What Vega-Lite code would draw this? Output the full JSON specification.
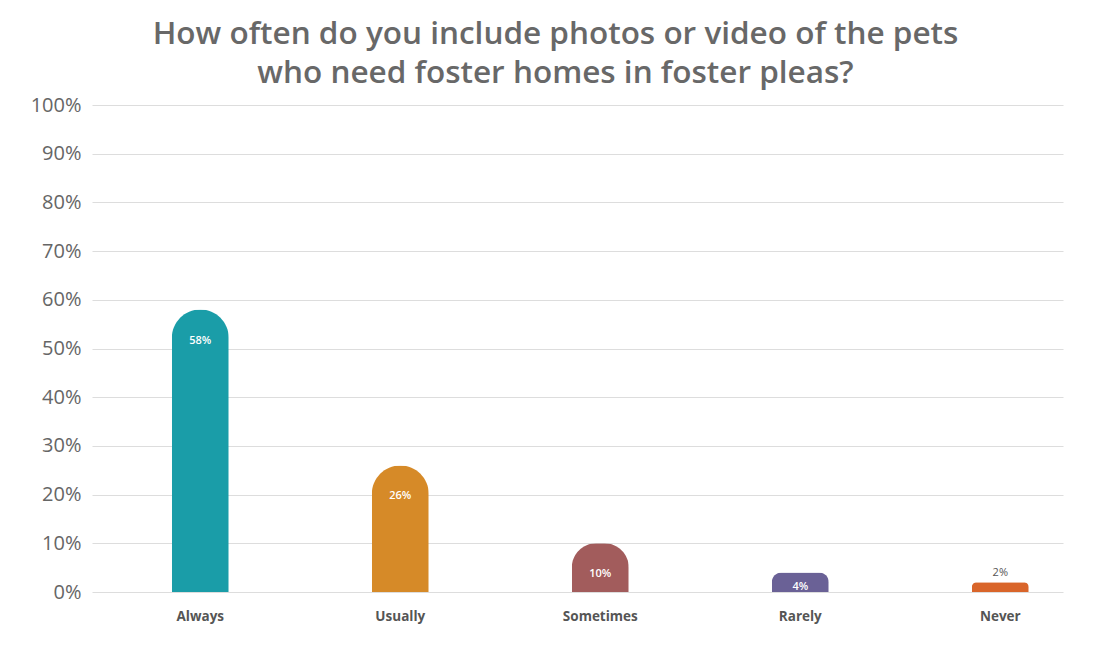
{
  "$schema": "https://vega.github.io/schema/vega-lite/v6.json",
  "width": 971,
  "height": 487,
  "autosize": {"type": "none"},
  "padding": {"left": 92, "top": 105, "right": 31, "bottom": 79},
  "background": "white",
  "title": {
    "text": ["How often do you include photos or video of the pets", "who need foster homes in foster pleas?"],
    "anchor": "middle",
    "frame": "group",
    "dx": -22,
    "offset": 6,
    "font": "Open Sans",
    "fontSize": 31.5,
    "fontWeight": 600,
    "color": "#686868",
    "lineHeight": 39
  },
  "data": {
    "values": [
      {"response": "Always", "share": 0.58},
      {"response": "Usually", "share": 0.26},
      {"response": "Sometimes", "share": 0.10},
      {"response": "Rarely", "share": 0.04},
      {"response": "Never", "share": 0.02}
    ]
  },
  "encoding": {
    "x": {
      "field": "response",
      "type": "nominal",
      "sort": null,
      "scale": {"paddingInner": 0.715, "paddingOuter": 0.285, "align": 0.7},
      "axis": {
        "title": null,
        "labelAngle": 0,
        "domain": false,
        "ticks": false,
        "labelFont": "Open Sans",
        "labelFontWeight": "bold",
        "labelFontSize": 13.5,
        "labelColor": "#555555",
        "labelPadding": 17
      }
    },
    "y": {
      "field": "share",
      "type": "quantitative",
      "scale": {"domain": [0, 1]},
      "axis": {
        "title": null,
        "format": ".0%",
        "values": [0, 0.1, 0.2, 0.3, 0.4, 0.5, 0.6, 0.7, 0.8, 0.9, 1],
        "labelOverlap": false,
        "labelFlush": false,
        "domain": false,
        "ticks": false,
        "grid": true,
        "gridColor": "#dddddd",
        "labelFont": "Open Sans",
        "labelFontSize": 20,
        "labelColor": "#666666",
        "labelPadding": 11
      }
    }
  },
  "layer": [
    {
      "mark": {"type": "bar", "cornerRadiusTopLeft": 28.5, "cornerRadiusTopRight": 28.5},
      "encoding": {
        "color": {
          "field": "response",
          "type": "nominal",
          "sort": null,
          "scale": {
            "domain": ["Always", "Usually", "Sometimes", "Rarely", "Never"],
            "range": ["#1A9DA8", "#D68A28", "#A25C5C", "#6A6196", "#D9652A"]
          },
          "legend": null
        }
      }
    },
    {
      "transform": [{"filter": "datum.share >= 0.1"}],
      "mark": {"type": "text", "dy": 31, "color": "white", "font": "Open Sans", "fontSize": 11, "fontWeight": 600, "baseline": "middle"},
      "encoding": {"text": {"field": "share", "type": "quantitative", "format": ".0%"}}
    },
    {
      "transform": [{"filter": "datum.share > 0.03 && datum.share < 0.1"}],
      "mark": {"type": "text", "dy": 14, "color": "white", "font": "Open Sans", "fontSize": 11, "fontWeight": 600, "baseline": "middle"},
      "encoding": {"text": {"field": "share", "type": "quantitative", "format": ".0%"}}
    },
    {
      "transform": [{"filter": "datum.share <= 0.03"}],
      "mark": {"type": "text", "dy": -9, "color": "#555555", "font": "Open Sans", "fontSize": 11, "baseline": "middle"},
      "encoding": {"text": {"field": "share", "type": "quantitative", "format": ".0%"}}
    }
  ],
  "config": {"view": {"stroke": null}}
}
